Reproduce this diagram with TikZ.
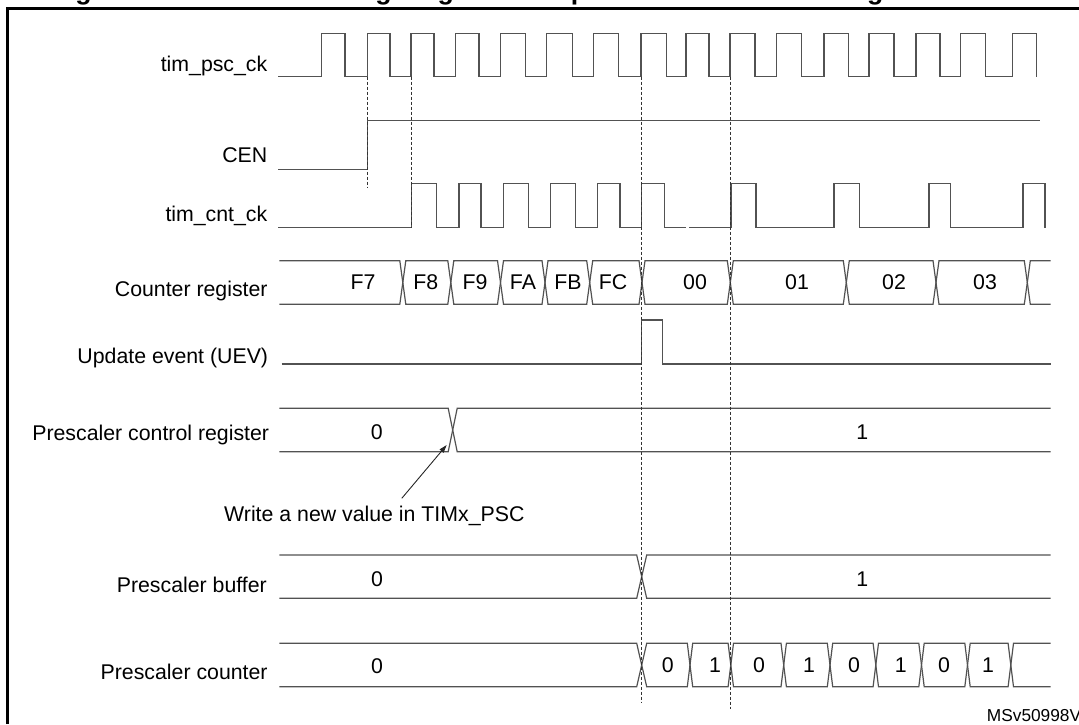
\documentclass[tikz,border=0pt]{standalone}
\usepackage{fontspec}
\setmainfont{Liberation Sans}
\usetikzlibrary{arrows.meta}
\newcommand{\bhex}[6]{% ta tb yt yb ha hb
  \draw[wave] (#1,{(#3+#4)/2}) -- ({#1+#5},#3) -- ({#2-#6},#3) -- (#2,{(#3+#4)/2}) -- ({#2-#6},#4) -- ({#1+#5},#4) -- cycle;}
\newcommand{\bstart}[5]{% xs t yt yb h
  \draw[wave] (#1,#3) -- ({#2-#5},#3) -- (#2,{(#3+#4)/2}) -- ({#2-#5},#4) -- (#1,#4);}
\newcommand{\bend}[5]{% t xe yt yb h
  \draw[wave] (#2,#3) -- ({#1+#5},#3) -- (#1,{(#3+#4)/2}) -- ({#1+#5},#4) -- (#2,#4);}
\begin{document}
\begin{tikzpicture}[x=1pt,y=-1pt,
  wave/.style={draw=black!68, line width=1.2pt, line join=miter},
  guide/.style={draw=black!80, line width=1pt, dash pattern=on 3pt off 2pt},
  lbl/.style={anchor=base east, inner sep=0pt, text=black, font=\fontsize{21.3}{25}\selectfont},
  val/.style={anchor=center, inner sep=0pt, text=black, font=\fontsize{21.3}{25}\selectfont}]
\useasboundingbox (0,0) rectangle (1079,724);
% frame
\draw[black, line width=2.8pt] (7.5,724) -- (7.5,8.7) -- (1079,8.7);
\node[anchor=base west, inner sep=0pt, text=black, font=\bfseries\fontsize{26.65}{30}\selectfont] (title) at (51.5,-1) {Figure 237. Counter timing diagram with prescaler division change from 1 to 2};
% labels
\node[lbl] (l1) at (267.5,71.5) {tim\_psc\_ck};
\node[lbl] (l2) at (267.5,162.7) {CEN};
\node[lbl] (l3) at (267.5,221.7) {tim\_cnt\_ck};
\node[lbl] (l4) at (267.8,296.7) {Counter register};
\node[lbl] (l5) at (268.3,363.3) {Update event (UEV)};
\node[lbl] (l6) at (269.3,440) {Prescaler control register};
\node[lbl] (l7) at (267,592.3) {Prescaler buffer};
\node[lbl] (l8) at (267.8,679.3) {Prescaler counter};
% tim_psc_ck
\draw[wave] (278.2,76.7)
  \foreach \r/\f in {321.7/345,367.3/390,411/434,455.7/479,500.7/525.7,546.7/572.3,593.3/618.3,641/666.7,686/709,730/755,776.7/801.7,824/848.3,869/894,916/940,960.7/985.7,1012.7/1036.7}
  { -- (\r,76.7) -- (\r,33.3) -- (\f,33.3) -- (\f,76.7) };
% CEN
\draw[wave] (278.2,169.3) -- (367.5,169.3) -- (367.5,120.7) -- (1040,120.7);
% tim_cnt_ck
\draw[wave] (278.2,227.7) -- (411.7,227.7) -- (411.7,183.3) -- (436.7,183.3) -- (436.7,227.7)
  -- (459,227.7) -- (459,183.3) -- (481,183.3) -- (481,227.7)
  -- (503.3,227.7) -- (503.3,183.3) -- (528.3,183.3) -- (528.3,227.7)
  -- (550.7,227.7) -- (550.7,183.3) -- (575.7,183.3) -- (575.7,227.7)
  -- (597.7,227.7) -- (597.7,183.3) -- (620,183.3) -- (620,227.7)
  -- (641.7,227.7) -- (641.7,183.3) -- (664.2,183.3) -- (664.2,227.7) -- (685.5,227.7)
  (689,227.7) -- (731,227.7) -- (731,183.3) -- (756,183.3) -- (756,227.7)
  -- (834,227.7) -- (834,183.3) -- (859.7,183.3) -- (859.7,227.7)
  -- (929,227.7) -- (929,183.3) -- (950.8,183.3) -- (950.8,227.7)
  -- (1023,227.7) -- (1023,183.3) -- (1045,183.3) -- (1045,227.7);
% Counter register
\bstart{279.3}{402.8}{260.7}{304.3}{3}
\bhex{402.8}{450.8}{260.7}{304.3}{3}{3}
\bhex{450.8}{500.5}{260.7}{304.3}{3}{3}
\bhex{500.5}{545}{260.7}{304.3}{3}{3}
\bhex{545}{589.7}{260.7}{304.3}{3}{3}
\bhex{589.7}{642}{260.7}{304.3}{3}{3}
\bhex{642}{730.3}{260.7}{304.3}{3}{3}
\bhex{730.3}{846.3}{260.7}{304.3}{3}{3}
\bhex{846.3}{936}{260.7}{304.3}{3}{3}
\bhex{936}{1027.3}{260.7}{304.3}{3}{3}
\bend{1027.3}{1050.7}{260.7}{304.3}{3}
\node[val] (cF7) at (363,282.3) {F7};
\node[val] (cF8) at (425.7,282.3) {F8};
\node[val] (cF9) at (475,282.3) {F9};
\node[val] (cFA) at (523,282.3) {FA};
\node[val] (cFB) at (568,282.3) {FB};
\node[val] (cFC) at (613,282.3) {FC};
\node[val] (c00) at (695,282.3) {00};
\node[val] (c01) at (797,282.3) {01};
\node[val] (c02) at (894,282.3) {02};
\node[val] (c03) at (985,282.3) {03};
% UEV
\draw[wave] (281.7,364) -- (641.7,364) -- (641.7,320) -- (662.7,320) -- (662.7,364) -- (1050.7,364);
% Prescaler control register
\bstart{279.3}{452.7}{408.3}{451.7}{4.5}
\bend{452.7}{1050.7}{408.3}{451.7}{4.5}
\node[val] (p0) at (376.7,431.7) {0};
\node[val] (p1) at (862.3,431.7) {1};
\coordinate (xpcr) at (446.7,445);
% write note
\node[anchor=base west, inner sep=0pt, text=black, font=\fontsize{21.3}{25}\selectfont] (note) at (224,521.7) {Write a new value in TIMx\_PSC};
\coordinate (nstart) at (401.8,498.3);
\draw[black!85, line width=0.9pt, -{Triangle[length=8pt,width=5pt]}] (nstart) -- (xpcr);
% Prescaler buffer
\bstart{279.3}{641.7}{555}{598.3}{5}
\bend{641.7}{1050.7}{555}{598.3}{5}
\node[val] (b0) at (377,579) {0};
\node[val] (b1) at (862.3,579) {1};
% Prescaler counter
\bstart{279.3}{641.7}{643.3}{686.7}{5}
\bhex{641.7}{690}{643.3}{686.7}{5}{2.7}
\bhex{690}{730.8}{643.3}{686.7}{2.7}{2.7}
\bhex{730.8}{783.7}{643.3}{686.7}{2.7}{2.7}
\bhex{783.7}{830}{643.3}{686.7}{2.7}{2.7}
\bhex{830}{875.8}{643.3}{686.7}{2.7}{2.7}
\bhex{875.8}{921.5}{643.3}{686.7}{2.7}{2.7}
\bhex{921.5}{967.5}{643.3}{686.7}{2.7}{2.7}
\bhex{967.5}{1010.8}{643.3}{686.7}{2.7}{2.7}
\bend{1010.8}{1050.7}{643.3}{686.7}{2.7}
\node[val] (k0) at (377,666) {0};
\node[val] (k1) at (667.7,665.5) {0};
\node[val] (k2) at (715,665.5) {1};
\node[val] (k3) at (759,665.5) {0};
\node[val] (k4) at (809,665.5) {1};
\node[val] (k5) at (854,665.5) {0};
\node[val] (k6) at (900.7,665.5) {1};
\node[val] (k7) at (944,665.5) {0};
\node[val] (k8) at (988,665.5) {1};
% dashed guides
\draw[guide] (367.5,76.7) -- (367.5,188.3);
\draw[guide] (411.5,76.7) -- (411.5,227.7);
\draw[guide] (641.5,76.7) -- (641.5,702.7);
\draw[guide] (730.6,76.7) -- (730.6,709);
% id
\node[anchor=base west, inner sep=0pt, text=black, font=\fontsize{17.3}{20}\selectfont] (msv) at (986.7,721.7) {MSv50998V1};
\end{tikzpicture}
\end{document}
